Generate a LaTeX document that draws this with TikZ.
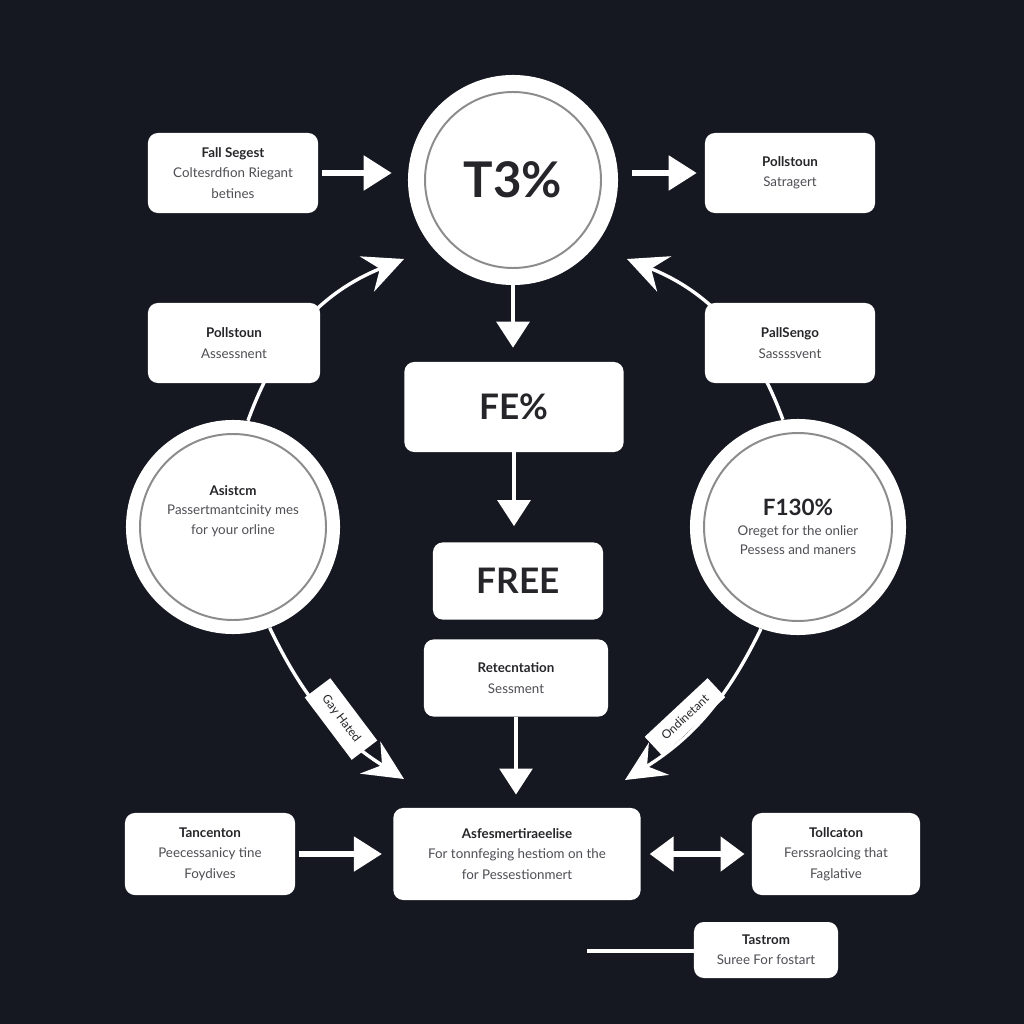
\documentclass[tikz,border=0pt]{standalone}
\usepackage{fontspec}
\setmainfont{Lato}
\usetikzlibrary{arrows.meta, positioning}
\definecolor{nightbg}{RGB}{21,23,33}
\definecolor{inkdark}{RGB}{38,38,42}
\definecolor{inksoft}{RGB}{78,78,84}
\definecolor{ringgray}{RGB}{140,140,140}
\newcommand{\hd}[1]{{\bfseries\color{inkdark}#1}}
\pgfdeclarelayer{canvas}
\pgfdeclarelayer{links}
\pgfsetlayers{canvas,links,main}
\tikzset{
  card/.style     = {fill=white, rounded corners=7pt, align=center, text=inksoft,
                     font=\fontsize{9.5}{14.5}\selectfont, inner sep=2pt},
  bigcard/.style  = {card, font=\fontsize{25}{28}\selectfont\bfseries, text=inkdark},
  disc/.style     = {circle, fill=white, align=center, text=inksoft,
                     font=\fontsize{9.5}{14}\selectfont, inner sep=0pt},
  ringline/.style = {draw=ringgray, line width=1.4pt},
  tag/.style      = {fill=white, text=inkdark, font=\fontsize{8.5}{10}\selectfont, inner sep=1pt},
  flow/.style     = {draw=white, line width=3.8pt, -{Triangle[length=0.7cm, width=0.85cm]}},
  twoway/.style   = {draw=white, line width=3.8pt,
                     {Triangle[length=0.6cm, width=0.85cm]}-{Triangle[length=0.6cm, width=0.85cm]}},
  drop/.style     = {draw=white, line width=2.6pt, -{Triangle[length=0.65cm, width=0.82cm]}},
  swing/.style    = {draw=white, line width=2.4pt, -{Stealth[length=1cm, width=0.95cm, inset=0.35cm]}},
  plainline/.style= {draw=white, line width=2.4pt},
}

\begin{document}
\begin{tikzpicture}[x=0.025cm, y=-0.025cm]

% backdrop
\begin{pgfonlayer}{canvas}
  \fill[nightbg] (0,0) rectangle (1024,1024);
\end{pgfonlayer}

% top circle
\node[disc, minimum size=5.25cm, font=\fontsize{35}{40}\selectfont\bfseries, text=inkdark] (topc) at (513,180) {T3\%};
\draw[ringline] (topc) circle[radius=88];

% upper side cards
\node[card, minimum width=4.25cm, minimum height=2cm] (fallseg) at (233,173)
  {\hd{Fall Segest}\\Coltesrdfion Riegant\\betines};
\node[card, minimum width=4.25cm, minimum height=2cm] (pollR) at (790,173)
  {\hd{Pollstoun}\\Satragert};
\node[card, minimum width=4.3cm, minimum height=2cm] (pollL) at (234,343)
  {\hd{Pollstoun}\\Assessnent};
\node[card, minimum width=4.25cm, minimum height=2cm] (pallseng) at (790,343)
  {\hd{PallSengo}\\Sassssvent};

% centre column
\node[bigcard, minimum width=5.48cm, minimum height=2.25cm] (fe) at (514,407) {FE\%};
\node[bigcard, minimum width=4.25cm, minimum height=1.93cm] (free) at (518,581) {FREE};
\node[card, minimum width=4.6cm, minimum height=1.93cm] (retec) at (516,678)
  {\hd{Retecntation}\\Sessment};

% side circles
\node[disc, minimum size=5.35cm] (lc) at (233,527) {};
\draw[ringline] (lc) circle[radius=93];
\node[disc, fill=none] (lcnote) at (233,511)
  {\hd{Asistcm}\\Passertmantcinity mes\\for your orline};
\node[disc, minimum size=5.4cm] (rc) at (798,527)
  {\hd{\fontsize{16}{18}\selectfont F130\%}\\Oreget for the onlier\\Pessess and maners};
\draw[ringline] (rc) circle[radius=94];

% bottom row
\node[card, minimum width=6.18cm, minimum height=2.3cm] (asses) at (517,854)
  {\hd{Asfesmertiraeelise}\\For tonnfeging hestiom on the\\for Pessestionmert};
\node[card, minimum width=4.25cm, minimum height=2.05cm] (tanc) at (210,854)
  {\hd{Tancenton}\\Peecessanicy tine\\Foydives};
\node[card, minimum width=4.2cm, minimum height=2.05cm] (tollc) at (836,854)
  {\hd{Tollcaton}\\Ferssraolcing that\\Faglative};
\node[card, minimum width=3.6cm, minimum height=1.4cm] (tastrom) at (766,950)
  {\hd{Tastrom}\\Suree For fostart};

% free ends
\coordinate (tipUL) at (404,259);
\coordinate (tipUR) at (627,259);
\coordinate (tipLL) at (404,779);
\coordinate (tipLR) at (625,780);
\coordinate (lineStart) at (587,951);

% curved links behind the cards
\begin{pgfonlayer}{links}
  \draw[swing] (lc.82) to[bend left=24] (tipUL);
  \draw[swing] (rc.98) to[bend right=24] (tipUR);
  \draw[swing] (lc.290) to[bend right=16] (tipLL);
  \draw[swing] (rc.250) to[bend left=16] (tipLR);
\end{pgfonlayer}

\node[tag, rotate=-53, minimum width=1.95cm, minimum height=0.8cm] (gaytag) at (341,719) {Gay Hated};
\node[tag, rotate=43, minimum width=2.15cm, minimum height=0.65cm] (ondtag) at (685,717) {Ondinetant};

% straight arrows
\draw[flow, shorten <=0.1cm, shorten >=0.4cm] (fallseg.east) -- (fallseg.east -| topc.west);
\draw[flow, shorten <=0.35cm, shorten >=0.2cm] (pollR.west -| topc.east) -- (pollR.west);
\draw[drop, shorten >=0.35cm] (topc.south) -- (topc.south |- fe.north);
\draw[drop, shorten >=0.4cm] (fe.south) -- (fe.south |- free.north);
\draw[drop, shorten >=0.33cm] (retec.south) -- (retec.south |- asses.north);
\draw[flow, shorten <=0.08cm, shorten >=0.28cm] (tanc.east) -- (tanc.east -| asses.west);
\draw[twoway, shorten <=0.22cm, shorten >=0.18cm] (asses.east) -- (asses.east -| tollc.west);
\draw[plainline] (lineStart) -- (lineStart -| tastrom.west);

\end{tikzpicture}
\end{document}
